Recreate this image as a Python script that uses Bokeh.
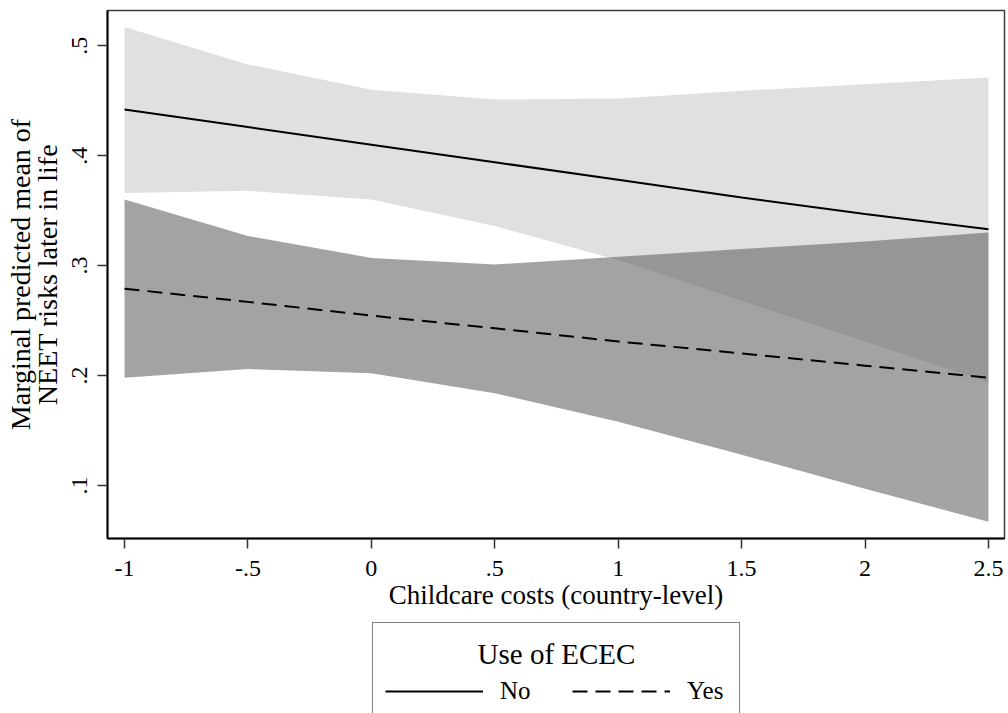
from bokeh.plotting import figure
from bokeh.layouts import column
from bokeh.models import Range1d, FixedTicker, Legend, LegendItem, Label
from bokeh.embed import file_html
from bokeh.resources import INLINE

# Data
x = [-1.0, -0.5, 0.0, 0.5, 1.0, 1.5, 2.0, 2.5]
no_mean = [0.442, 0.426, 0.410, 0.394, 0.378, 0.362, 0.347, 0.333]
no_lo = [0.366, 0.368, 0.360, 0.336, 0.305, 0.268, 0.231, 0.194]
no_hi = [0.517, 0.483, 0.460, 0.451, 0.452, 0.459, 0.465, 0.471]
yes_mean = [0.279, 0.267, 0.2545, 0.243, 0.231, 0.220, 0.209, 0.198]
yes_lo = [0.198, 0.206, 0.202, 0.184, 0.158, 0.128, 0.097, 0.067]
yes_hi = [0.360, 0.327, 0.307, 0.301, 0.308, 0.315, 0.322, 0.330]

x_ticks = [-1, -0.5, 0, 0.5, 1, 1.5, 2, 2.5]
x_tick_labels = ["-1", "-.5", "0", ".5", "1", "1.5", "2", "2.5"]
y_ticks = [0.1, 0.2, 0.3, 0.4, 0.5]
y_tick_labels = [".1", ".2", ".3", ".4", ".5"]
series_labels = ["No", "Yes"]
legend_title = "Use of ECEC"

FONT = "Liberation Serif"
xr = Range1d(-1.069, 2.565)

p = figure(width=1008, height=617, output_backend="svg", toolbar_location=None,
           x_range=xr, y_range=Range1d(0.0518, 0.532),
           min_border_left=107, min_border_right=4, min_border_top=10,
           min_border_bottom=79)
p.background_fill_color = "white"
p.border_fill_color = "white"
p.grid.visible = False
p.outline_line_color = "#404040"
p.outline_line_width = 1.5

p.varea(x=x, y1=no_lo, y2=no_hi, fill_color="#e0e0e0", fill_alpha=1.0)
p.varea(x=x, y1=yes_lo, y2=yes_hi, fill_color="#606060", fill_alpha=0.58)
p.line(x, no_mean, line_color="black", line_width=2)
p.line(x, yes_mean, line_color="black", line_width=2, line_dash="15 8")

for ax in (p.xaxis[0], p.yaxis[0]):
    ax.major_label_text_font = FONT
    ax.major_label_text_font_size = "24px"
    ax.major_label_text_color = "black"
    ax.axis_label_text_font = FONT
    ax.axis_label_text_font_size = "27px"
    ax.axis_label_text_font_style = "normal"
    ax.axis_label_text_color = "black"
    ax.axis_line_color = "black"
    ax.axis_line_width = 2
    ax.major_tick_line_color = "#333333"
    ax.major_tick_line_width = 1.5
    ax.major_tick_out = 10
    ax.major_tick_in = 0
    ax.minor_tick_line_color = None

p.xaxis.ticker = FixedTicker(ticks=x_ticks)
p.xaxis.major_label_overrides = dict(zip(x_ticks, x_tick_labels))
p.xaxis.axis_label = "Childcare costs (country-level)"
p.xaxis.major_label_standoff = 12
p.xaxis.axis_label_standoff = 1

p.yaxis.ticker = FixedTicker(ticks=y_ticks)
p.yaxis.major_label_overrides = dict(zip(y_ticks, y_tick_labels))
p.yaxis.major_label_orientation = "vertical"
p.yaxis.axis_label = "Marginal predicted mean of\nNEET risks later in life"
p.yaxis.axis_label_text_font_size = "28px"
p.yaxis.axis_label_text_line_height = 0.85
p.yaxis.major_label_standoff = 10
p.yaxis.axis_label_standoff = 7

# Legend panel (separate figure below the chart, same horizontal frame)
lg = figure(width=1008, height=96, output_backend="svg", toolbar_location=None,
            x_range=xr, y_range=Range1d(0, 96),
            min_border_left=107, min_border_right=4,
            min_border_top=0, min_border_bottom=0)
lg.axis.visible = False
lg.grid.visible = False
lg.outline_line_color = None
lg.background_fill_color = "white"
lg.border_fill_color = "white"
k_no = lg.line([-9, -8], [-50, -50], line_color="black", line_width=2)
k_yes = lg.line([-9, -8], [-50, -50], line_color="black", line_width=2,
                line_dash="15 8")

legend = Legend(items=[LegendItem(label=series_labels[0], renderers=[k_no]),
                       LegendItem(label=series_labels[1], renderers=[k_yes])],
                orientation="horizontal", location=(265, -6),
                title=" ", title_text_font=FONT, title_text_font_size="29px",
                title_standoff=8,
                label_text_font=FONT, label_text_font_size="25px",
                label_text_color="black", label_width=40,
                glyph_width=98, glyph_height=30, label_standoff=17, spacing=32,
                padding=12, margin=0,
                border_line_color="black", border_line_width=1.2,
                background_fill_alpha=0.0)
lg.add_layout(legend, "center")

lg.add_layout(Label(x=0.75, y=60, text=legend_title, text_font=FONT,
                    text_font_size="29px", text_align="center",
                    text_baseline="middle", text_color="black"))

layout = column(p, lg, spacing=0)
open("out.html", "w").write(file_html(layout, INLINE))
